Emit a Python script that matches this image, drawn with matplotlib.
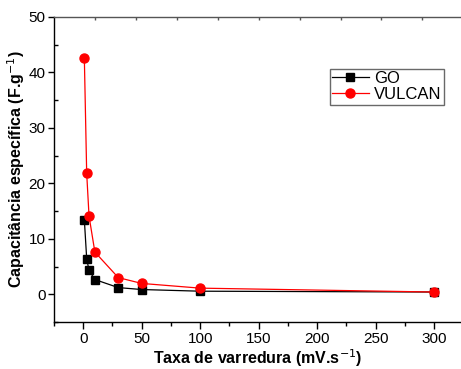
import matplotlib
matplotlib.use('Agg')
import matplotlib.pyplot as plt
from matplotlib.ticker import MultipleLocator

plt.rcParams['font.family'] = ['Liberation Sans', 'DejaVu Sans']

# scan rate (mV/s) and specific capacitance (F/g)
rate = [1, 3, 5, 10, 30, 50, 100, 300]
go = [13.4, 6.4, 4.3, 2.65, 1.2, 0.85, 0.55, 0.4]
vulcan = [42.5, 21.8, 14.1, 7.6, 3.0, 1.95, 1.1, 0.4]

fig = plt.figure(figsize=(4.61, 3.69), dpi=100)
ax = fig.add_axes([0.117, 0.1274, 0.883, 0.827])

ax.plot(rate, go, color='black', marker='s', markersize=6, linewidth=0.9, label='GO')
ax.plot(rate, vulcan, color='red', marker='o', markersize=6.5, linewidth=0.9, label='VULCAN')

ax.set_xlim(-25, 323)
ax.set_ylim(-5, 50)
ax.xaxis.set_major_locator(MultipleLocator(50))
ax.xaxis.set_minor_locator(MultipleLocator(25))
ax.yaxis.set_major_locator(MultipleLocator(10))
ax.yaxis.set_minor_locator(MultipleLocator(5))

ax.spines['right'].set_visible(False)
for s in ['left', 'bottom']:
    ax.spines[s].set_linewidth(1.0)
ax.spines['top'].set_color('#555555')
ax.spines['top'].set_linewidth(1.0)

ax.tick_params(axis='x', which='major', direction='out', length=5, width=1, labelsize=11, pad=2, top=False)
ax.tick_params(axis='x', which='minor', direction='out', length=3, width=1, top=False)
ax.tick_params(axis='y', which='major', direction='out', length=4, width=1, labelsize=11, pad=2, right=False)
ax.tick_params(axis='y', which='minor', direction='in', length=3, width=1, right=False)

# tiny ticks on the top frame line
top = ax.secondary_xaxis('top')
top.set_xticks([10, 45, 80, 115, 150, 185, 220, 255, 290])
top.tick_params(direction='in', length=2, width=1, color='#555555', labeltop=False)
top.spines['top'].set_visible(False)

ax.set_xlabel('Taxa de varredura (mV.s$^{-1}$)', fontsize=11.5, fontweight='bold', labelpad=1.5)
ax.set_ylabel('Capacitância específica (F.g$^{-1}$)', fontsize=11.5, fontweight='bold', labelpad=1)

leg = ax.legend(loc='upper left', bbox_to_anchor=(0.677, 0.83), fontsize=12,
                frameon=True, fancybox=False, edgecolor='#444444',
                handlelength=2.2, handletextpad=0.3, borderpad=0.15, labelspacing=0.05,
                borderaxespad=0)
leg.get_frame().set_linewidth(1.0)

fig.savefig('out.png', dpi=100)
